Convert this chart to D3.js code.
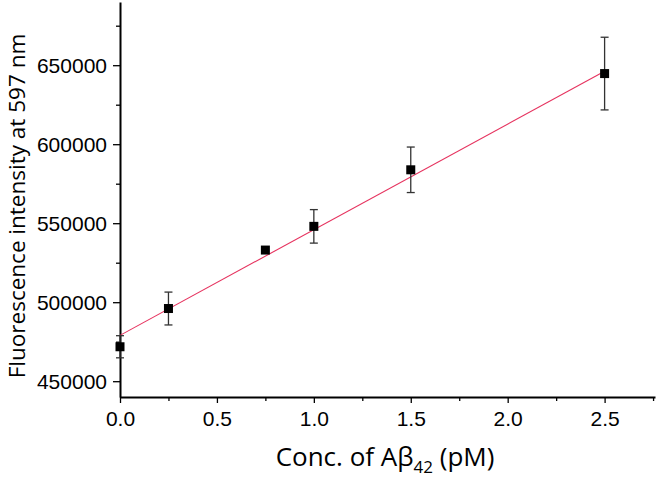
<!DOCTYPE html>
<html>
<head>
<meta charset="utf-8">
<script src="https://cdn.jsdelivr.net/npm/d3@7"></script>
<style>
  body { margin: 0; background: #fff; }
  .tick text { font-family: "Liberation Sans", Arial, sans-serif; font-size: 21px; fill: #000; }
  .axis-label { font-family: "Open Sans", sans-serif; fill: #000; }
</style>
</head>
<body>
<div id="chart"></div>
<script>
const concentrations = [0, 0.25, 0.75, 1.0, 1.5, 2.5];
const intensities = [471800, 496000, 533000, 548000, 583800, 644700];
const errors = [7000, 10400, 0, 10600, 14400, 23000];
const fitX = [0, 2.5];
const fitY = [479000, 646200];
const yTicks = [450000, 500000, 550000, 600000, 650000];
const xTicks = [0, 0.5, 1.0, 1.5, 2.0, 2.5];

const width = 657, height = 477;
const margin = { top: 2, right: 2, bottom: 80, left: 120 };

const svg = d3.select("#chart").append("svg")
  .attr("width", width)
  .attr("height", height);

const x = d3.scaleLinear().domain([0, 2.76]).range([margin.left, width - margin.right]);
const y = d3.scaleLinear().domain([440000, 690000]).range([height - margin.bottom, margin.top]);

// minor ticks
svg.append("g")
  .attr("transform", `translate(0,${height - margin.bottom})`)
  .call(d3.axisBottom(x).tickValues(d3.range(0.25, 2.76, 0.5)).tickSize(4).tickFormat(""))
  .call(g => g.select(".domain").remove())
  .selectAll("line").attr("stroke-width", 1.3);

svg.append("g")
  .attr("transform", `translate(${margin.left},0)`)
  .call(d3.axisLeft(y).tickValues(d3.range(475000, 690000, 50000)).tickSize(4).tickFormat(""))
  .call(g => g.select(".domain").remove())
  .selectAll("line").attr("stroke-width", 1.3);

const xAxis = svg.append("g")
  .attr("transform", `translate(0,${height - margin.bottom})`)
  .call(d3.axisBottom(x).tickValues(xTicks).tickSize(6).tickSizeOuter(0).tickPadding(8).tickFormat(d3.format(".1f")));

const yAxis = svg.append("g")
  .attr("transform", `translate(${margin.left},0)`)
  .call(d3.axisLeft(y).tickValues(yTicks).tickSize(7).tickSizeOuter(0).tickPadding(6).tickFormat(d3.format("d")));

[xAxis, yAxis].forEach(g => {
  g.select(".domain").attr("stroke-width", 2);
  g.selectAll(".tick line").attr("stroke-width", 1.3);
});
yAxis.selectAll(".tick text").attr("dy", "0.36em");

// fit line
const line = d3.line().x((d, i) => x(fitX[i])).y(d => y(d));
svg.append("path")
  .datum(fitY)
  .attr("d", line)
  .attr("fill", "none")
  .attr("stroke", "#e6335f")
  .attr("stroke-width", 1.1);

// error bars
const points = concentrations.map((c, i) => ({ c, v: intensities[i], e: errors[i] }));
const eb = svg.append("g").attr("stroke", "#333").attr("stroke-width", 1.3);
points.filter(d => d.e > 0).forEach(d => {
  eb.append("line").attr("x1", x(d.c)).attr("x2", x(d.c)).attr("y1", y(d.v - d.e)).attr("y2", y(d.v + d.e));
  [d.v - d.e, d.v + d.e].forEach(v => {
    eb.append("line").attr("x1", x(d.c) - 4).attr("x2", x(d.c) + 4).attr("y1", y(v)).attr("y2", y(v));
  });
});

// markers
svg.append("g").selectAll("rect")
  .data(points)
  .join("rect")
  .attr("x", d => x(d.c) - 4.5)
  .attr("y", d => y(d.v) - 4.5)
  .attr("width", 9)
  .attr("height", 9)
  .attr("fill", "#000");

// axis titles
const xt = svg.append("text")
  .attr("class", "axis-label")
  .attr("font-size", "26px")
  .attr("x", 385)
  .attr("y", 466)
  .attr("text-anchor", "middle");
xt.append("tspan").text("Conc. of Aβ");
xt.append("tspan").attr("font-size", "17px").attr("dy", 7).text("42");
xt.append("tspan").attr("dy", -7).text(" (pM)");

svg.append("text")
  .attr("class", "axis-label")
  .attr("font-size", "22.5px")
  .attr("transform", `translate(25,206) rotate(-90)`)
  .attr("text-anchor", "middle")
  .text("Fluorescence intensity at 597 nm");
</script>
</body>
</html>
